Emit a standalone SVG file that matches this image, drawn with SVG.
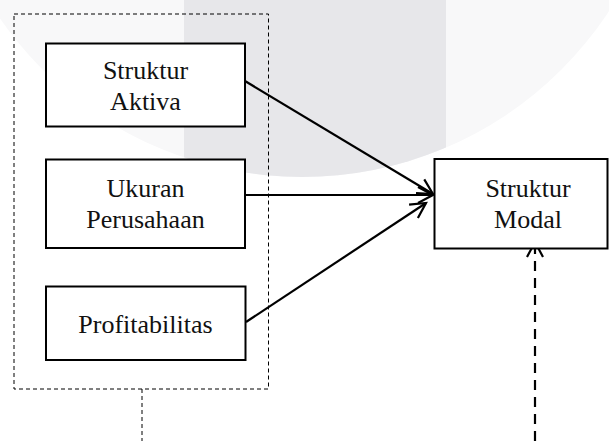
<svg xmlns="http://www.w3.org/2000/svg" width="609" height="441" viewBox="0 0 609 441">
<style>
.box{fill:#fff;stroke:#000;stroke-width:2}
.lbl{font-family:"Liberation Serif","Times New Roman",serif;font-size:26px;fill:#111;text-anchor:middle}
.con{stroke:#000;stroke-width:2.2;fill:none}
</style>
<defs>
<clipPath id="wc"><circle cx="302" cy="-190" r="367"/></clipPath>
<marker id="ah" markerUnits="userSpaceOnUse" markerWidth="40" markerHeight="40" refX="0" refY="0" viewBox="-20 -20 40 40" orient="auto" overflow="visible">
<path d="M-15,-8 L0,0 L-15,8" fill="none" stroke="#000" stroke-width="2.2" stroke-dasharray="none"/>
</marker>
</defs>
<rect width="609" height="441" fill="#fff"/>
<g id="watermark">
<circle cx="302" cy="-190" r="367" fill="#f8f8f9"/>
<rect x="184" y="0" width="262" height="200" fill="#e7e7ea" clip-path="url(#wc)"/>
</g>
<g id="group-box">
<rect x="14" y="14" width="254.5" height="375" fill="none" stroke="#000" stroke-width="1" stroke-dasharray="4 3"/>
</g>
<g id="connectors">
<line class="con" x1="245" y1="81" x2="433" y2="194" marker-end="url(#ah)"/>
<line class="con" x1="245" y1="195" x2="433" y2="195" marker-end="url(#ah)"/>
<line class="con" x1="246" y1="322" x2="426" y2="203" marker-end="url(#ah)"/>
<line x1="142" y1="389" x2="142" y2="441" stroke="#000" stroke-width="1" stroke-dasharray="4 3"/>
<line x1="535" y1="441" x2="535" y2="242" stroke="#000" stroke-width="2.2" stroke-dasharray="10 7" marker-end="url(#ah)"/>
</g>
<g id="node-aktiva">
<rect class="box" x="46" y="43.5" width="199" height="83"/>
<text class="lbl" x="145.5" y="79">Struktur</text>
<text class="lbl" x="145.5" y="110">Aktiva</text>
</g>
<g id="node-ukuran">
<rect class="box" x="46" y="159.5" width="199" height="88.5"/>
<text class="lbl" x="145.5" y="196.5">Ukuran</text>
<text class="lbl" x="145.5" y="228">Perusahaan</text>
</g>
<g id="node-profit">
<rect class="box" x="46" y="286.5" width="199.5" height="73.5"/>
<text class="lbl" x="145.5" y="333">Profitabilitas</text>
</g>
<g id="node-modal">
<rect class="box" x="434.5" y="159" width="173" height="89.5"/>
<text class="lbl" x="528" y="196.5">Struktur</text>
<text class="lbl" x="528" y="228">Modal</text>
</g>
</svg>
